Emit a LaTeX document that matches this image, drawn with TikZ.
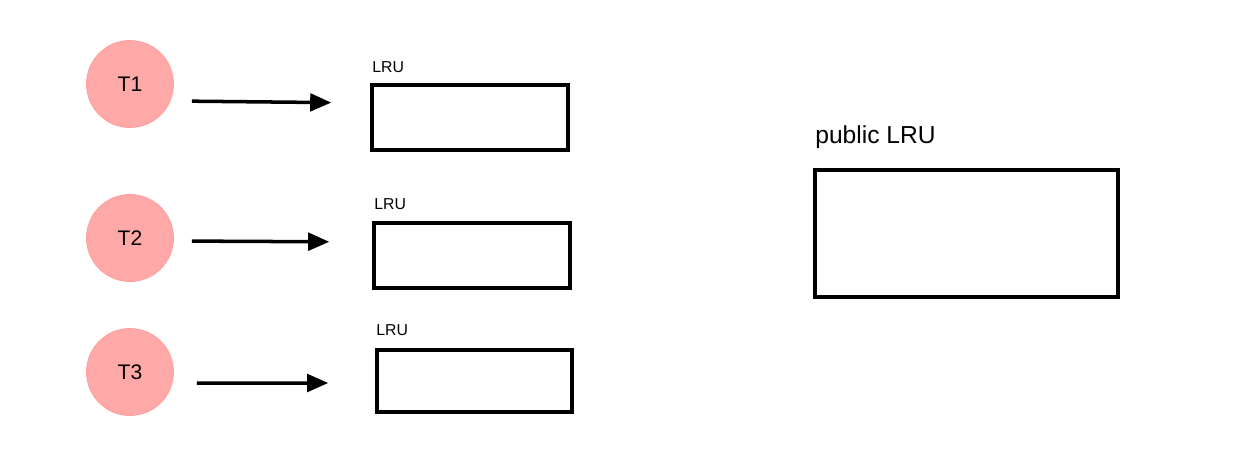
\documentclass[tikz,border=0pt]{standalone}
\usepackage{fontspec}
\setmainfont{Liberation Sans}
\usetikzlibrary{arrows.meta}
\definecolor{threadfill}{HTML}{FFA8A8}
\definecolor{threaddraw}{HTML}{FFA0A0}

\begin{document}
\begin{tikzpicture}[x=0.02cm, y=0.02cm]
        \tikzset{thread/.style={circle, fill=threadfill, draw=threaddraw, line width=0.5pt, minimum size=1.74cm, inner sep=0pt, font=\fontsize{12}{14}\selectfont}}
        \tikzset{cache/.style={draw=black, line width=2pt, inner sep=0pt}}
        \tikzset{arr/.style={-{Triangle[length=12pt,width=10pt]}, line width=2pt, shorten <=0.36cm, shorten >=0.78cm}}
        \useasboundingbox (0,0) rectangle (1243,-474);
        % threads
        \node [thread] (t1) at (130,-84) {T1};
        \node [thread] (t2) at (130,-238) {T2};
        \node [thread] (t3) at (130,-372) {T3};
        % per-thread caches
        \node [cache, minimum width=3.92cm, minimum height=1.3cm] (lru1) at (470,-117.5) {};
        \node [cache, minimum width=3.92cm, minimum height=1.3cm] (lru2) at (472,-255.5) {};
        \node [cache, minimum width=3.9cm, minimum height=1.24cm] (lru3) at (474.5,-381) {};
        \draw (372,-67) node [anchor=west, inner sep=0pt, font=\fontsize{9}{10}\selectfont] (lab1) {LRU};
        \draw (374,-204) node [anchor=west, inner sep=0pt, font=\fontsize{9}{10}\selectfont] (lab2) {LRU};
        \draw (376,-330) node [anchor=west, inner sep=0pt, font=\fontsize{9}{10}\selectfont] (lab3) {LRU};
        % shared cache
        \node [cache, minimum width=6.06cm, minimum height=2.54cm] (pub) at (966.5,-233.5) {};
        \draw (815,-137) node [anchor=west, inner sep=0pt, font=\fontsize{14}{16}\selectfont] (publab) {public LRU};
        % arrows
        \draw [arr] ([yshift=-0.34cm]t1.east) -- ([yshift=0.29cm]lru1.west);
        \draw [arr, shorten >=0.86cm] ([yshift=-0.06cm]t2.east) -- ([yshift=0.27cm]lru2.west);
        \draw [arr, shorten <=0.46cm, shorten >=0.94cm] ([yshift=-0.22cm]t3.east) -- ([yshift=-0.04cm]lru3.west);
\end{tikzpicture}
\end{document}
